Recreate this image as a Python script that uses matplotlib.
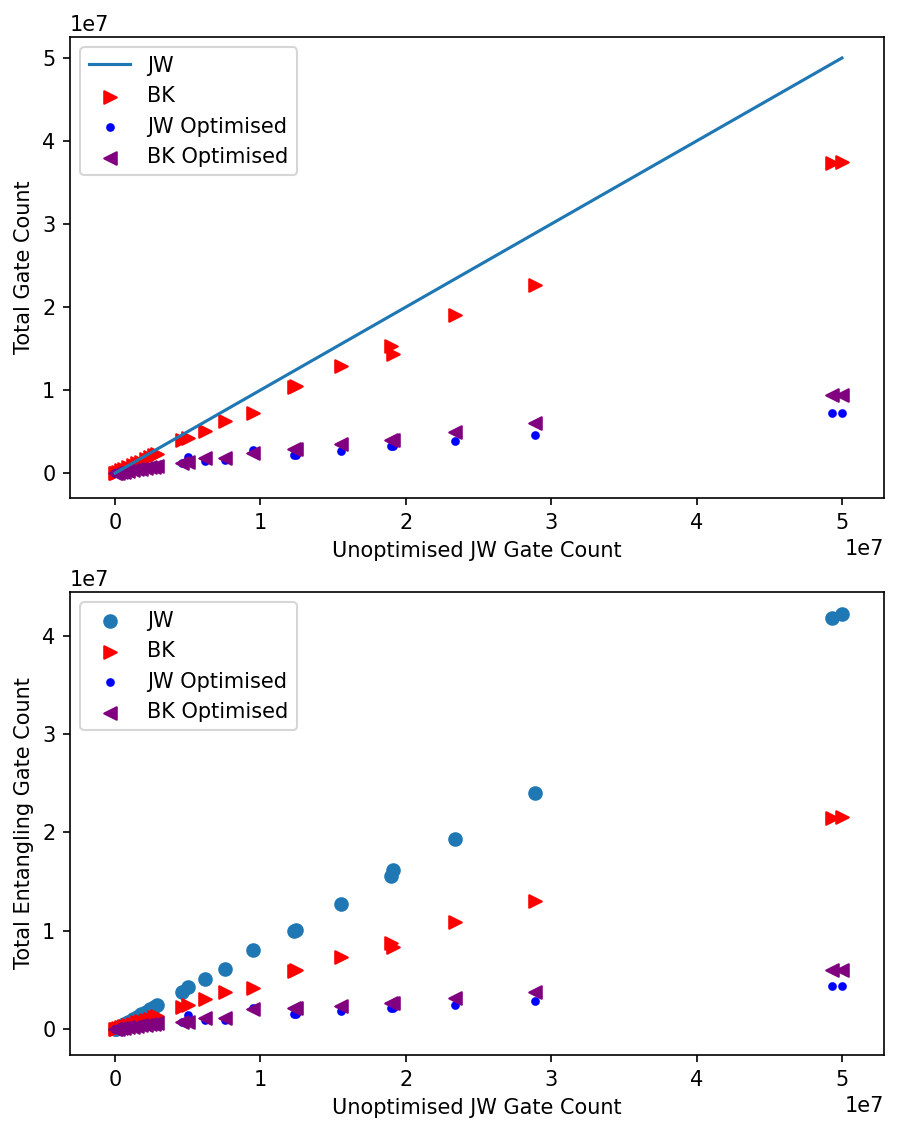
import numpy as np
import matplotlib
matplotlib.use("Agg")
import matplotlib.pyplot as plt

SCALE = 1e7
# Unoptimised JW gate count (x), in units of 1e7
jw_total = [0.001, 0.005, 0.02, 0.04, 0.06, 0.09, 0.12, 0.15, 0.18, 0.21, 0.24, 0.27, 0.29,
            0.46, 0.505, 0.62, 0.755, 0.947, 1.233, 1.245, 1.556, 1.898, 1.912, 2.34, 2.889, 4.935, 5.0]
bk_total = [0.001, 0.004, 0.016, 0.032, 0.048, 0.072, 0.095, 0.12, 0.14, 0.165, 0.19, 0.215, 0.23,
            0.40, 0.42, 0.51, 0.63, 0.72, 1.04, 1.05, 1.29, 1.53, 1.44, 1.90, 2.27, 3.73, 3.75]
jw_opt_total = [0.0003, 0.0015, 0.006, 0.012, 0.018, 0.026, 0.034, 0.042, 0.05, 0.058, 0.066, 0.074, 0.08,
                0.12, 0.196, 0.15, 0.157, 0.277, 0.217, 0.22, 0.269, 0.325, 0.33, 0.385, 0.458, 0.719, 0.719]
bk_opt_total = [0.0003, 0.0015, 0.006, 0.012, 0.018, 0.026, 0.035, 0.044, 0.053, 0.062, 0.07, 0.078, 0.085,
                0.124, 0.136, 0.177, 0.177, 0.245, 0.286, 0.29, 0.346, 0.398, 0.40, 0.498, 0.598, 0.94, 0.94]

jw_ent = [0.001, 0.004, 0.017, 0.033, 0.05, 0.075, 0.10, 0.125, 0.15, 0.175, 0.2, 0.225, 0.245,
          0.373, 0.43, 0.506, 0.608, 0.80, 1.0, 1.01, 1.272, 1.557, 1.618, 1.937, 2.405, 4.18, 4.22]
bk_ent = [0.0005, 0.002, 0.009, 0.018, 0.027, 0.04, 0.053, 0.066, 0.08, 0.093, 0.106, 0.12, 0.13,
          0.227, 0.244, 0.30, 0.373, 0.414, 0.593, 0.60, 0.736, 0.879, 0.832, 1.089, 1.303, 2.145, 2.16]
jw_opt_ent = [0.0001, 0.001, 0.003, 0.006, 0.009, 0.013, 0.017, 0.021, 0.025, 0.029, 0.033, 0.037, 0.04,
              0.07, 0.142, 0.09, 0.092, 0.21, 0.15, 0.155, 0.18, 0.21, 0.215, 0.24, 0.28, 0.438, 0.438]
bk_opt_ent = [0.0002, 0.001, 0.004, 0.008, 0.012, 0.018, 0.024, 0.03, 0.036, 0.042, 0.047, 0.052, 0.056,
              0.074, 0.074, 0.109, 0.109, 0.20, 0.21, 0.215, 0.234, 0.26, 0.265, 0.32, 0.38, 0.60, 0.60]

x = np.array(jw_total) * SCALE

fig = plt.figure(figsize=(908 / 150, 1135 / 150), dpi=150)
ax1 = fig.add_axes([0.0771, 0.5612, 0.8965, 0.4062])
ax2 = fig.add_axes([0.0771, 0.0705, 0.8965, 0.4079])

ax1.plot(x, x, label="JW")
ax1.scatter(x, np.array(bk_total) * SCALE, marker=">", color="red", label="BK")
ax1.scatter(x, np.array(jw_opt_total) * SCALE, marker="o", color="blue", s=10, label="JW Optimised")
ax1.scatter(x, np.array(bk_opt_total) * SCALE, marker="<", color="purple", label="BK Optimised")
ax1.set_xlim(-0.31e7, 5.29e7)
ax1.set_ylim(-0.30e7, 5.253e7)
ax1.set_xlabel("Unoptimised JW Gate Count")
ax1.set_ylabel("Total Gate Count")
ax1.legend(loc="upper left")

ax2.scatter(x, np.array(jw_ent) * SCALE, marker="o", label="JW")
ax2.scatter(x, np.array(bk_ent) * SCALE, marker=">", color="red", label="BK")
ax2.scatter(x, np.array(jw_opt_ent) * SCALE, marker="o", color="blue", s=10, label="JW Optimised")
ax2.scatter(x, np.array(bk_opt_ent) * SCALE, marker="<", color="purple", label="BK Optimised")
ax2.set_xlim(-0.31e7, 5.29e7)
ax2.set_ylim(-0.265e7, 4.448e7)
ax2.set_xlabel("Unoptimised JW Gate Count")
ax2.set_ylabel("Total Entangling Gate Count")
ax2.legend(loc="upper left")

fig.savefig("out.png", dpi=150)
